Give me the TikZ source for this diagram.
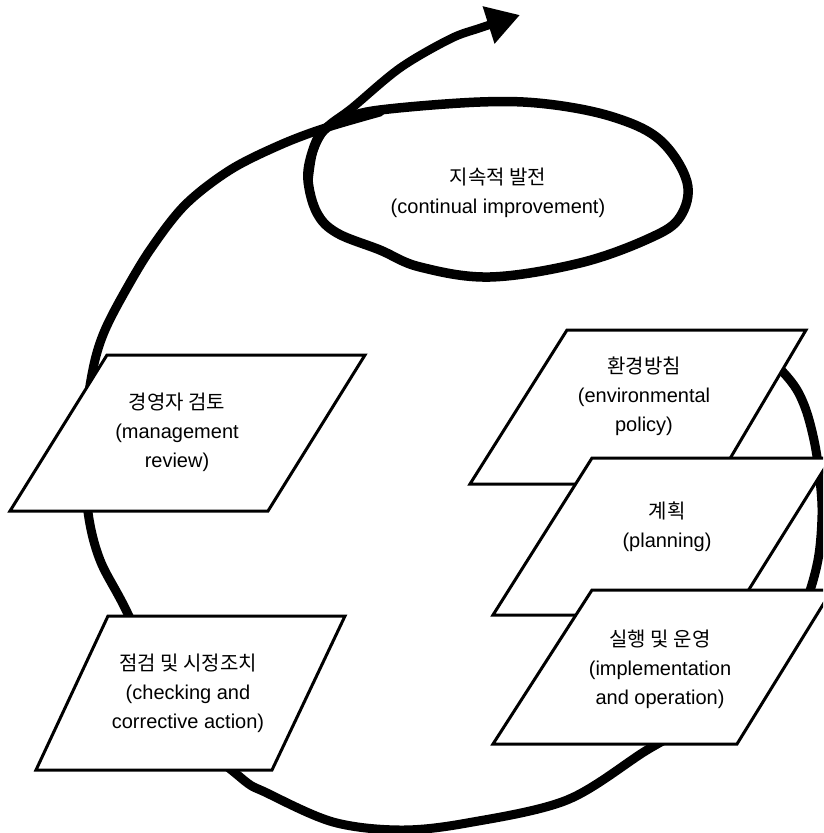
\documentclass[tikz,border=0pt]{standalone}
\usepackage{fontspec}
\setmainfont{Liberation Sans}
\newfontfamily\krfont{Noto Sans CJK KR}
\usetikzlibrary{arrows.meta}
\tikzset{
  loopline/.style={line width=9pt, line cap=round, line join=round},
  ovalline/.style={line width=9.5pt, line join=round},
  box/.style={draw=black, fill=white, line width=3pt, line join=miter},
  lbl/.style={align=center, font=\fontsize{20}{29}\selectfont, inner sep=0pt},
}
\begin{document}
\begin{tikzpicture}[x=1pt,y=-1pt]
\path[use as bounding box] (0,0) rectangle (823,833);
\clip (0,0) rectangle (823,833);
% big loop
\draw[loopline] plot[smooth, tension=0.55] coordinates {
 (765,355) (783,372) (797,390) (807,413) (815,445) (820,480) (822,515)
 (818,560) (805,605) (785,645) (750,685) (700,720) (647,750) (567,800)
 (467,823) (400,830) (333,822) (267,793) (240,777) (175,715) (127,612)
 (100,560) (88,512) (85,450) (88,400) (95,360) (105,330) (123,295)
 (150,250) (185,205) (230,170) (280,145) (325,128) (380,112)};
% continual improvement oval
\draw[ovalline] plot[smooth cycle, tension=0.6] coordinates {
 (380,110) (480,102) (547,104) (613,117) (660,140) (687,182) (680,217)
 (650,238) (580,263) (490,277) (420,267) (380,250) (337,233) (317,213)
 (308,180) (312,153) (323,131) (345,119)};
% outgoing arrow
\draw[line width=8.5pt, -{Triangle[length=33pt, width=37pt]}] plot[smooth, tension=0.55] coordinates {
 (308,185) (313,152) (326,128) (352,108) (400,68) (450,39) (480,28) (520,15)};
% boxes
\filldraw[box] (107,355) -- (365,355) -- (268,511) -- (10,511) -- cycle;
\filldraw[box] (108,616) -- (345,616) -- (272,770) -- (36,770) -- cycle;
\filldraw[box] (567,330) -- (806,330) -- (715,484) -- (470,484) -- cycle;
\filldraw[box] (592,458) -- (831,458) -- (733,615) -- (493,615) -- cycle;
\filldraw[box] (592,590) -- (832,590) -- (737,744) -- (493,744) -- cycle;
% labels
\node[lbl] (ci) at (498,193) {{\krfont 지속적 발전}\\(continual improvement)};
\node[lbl] (mr) at (177,432) {{\krfont 경영자 검토}\\(management\\review)};
\node[lbl] (ca) at (188,693) {{\krfont 점검 및 시정조치}\\(checking and\\corrective action)};
\node[lbl] (ep) at (644,396) {{\krfont 환경방침}\\(environmental\\policy)};
\node[lbl] (pl) at (667,527) {{\krfont 계획}\\(planning)};
\node[lbl] (io) at (660,669) {{\krfont 실행 및 운영}\\(implementation\\and operation)};
\end{tikzpicture}
\end{document}
